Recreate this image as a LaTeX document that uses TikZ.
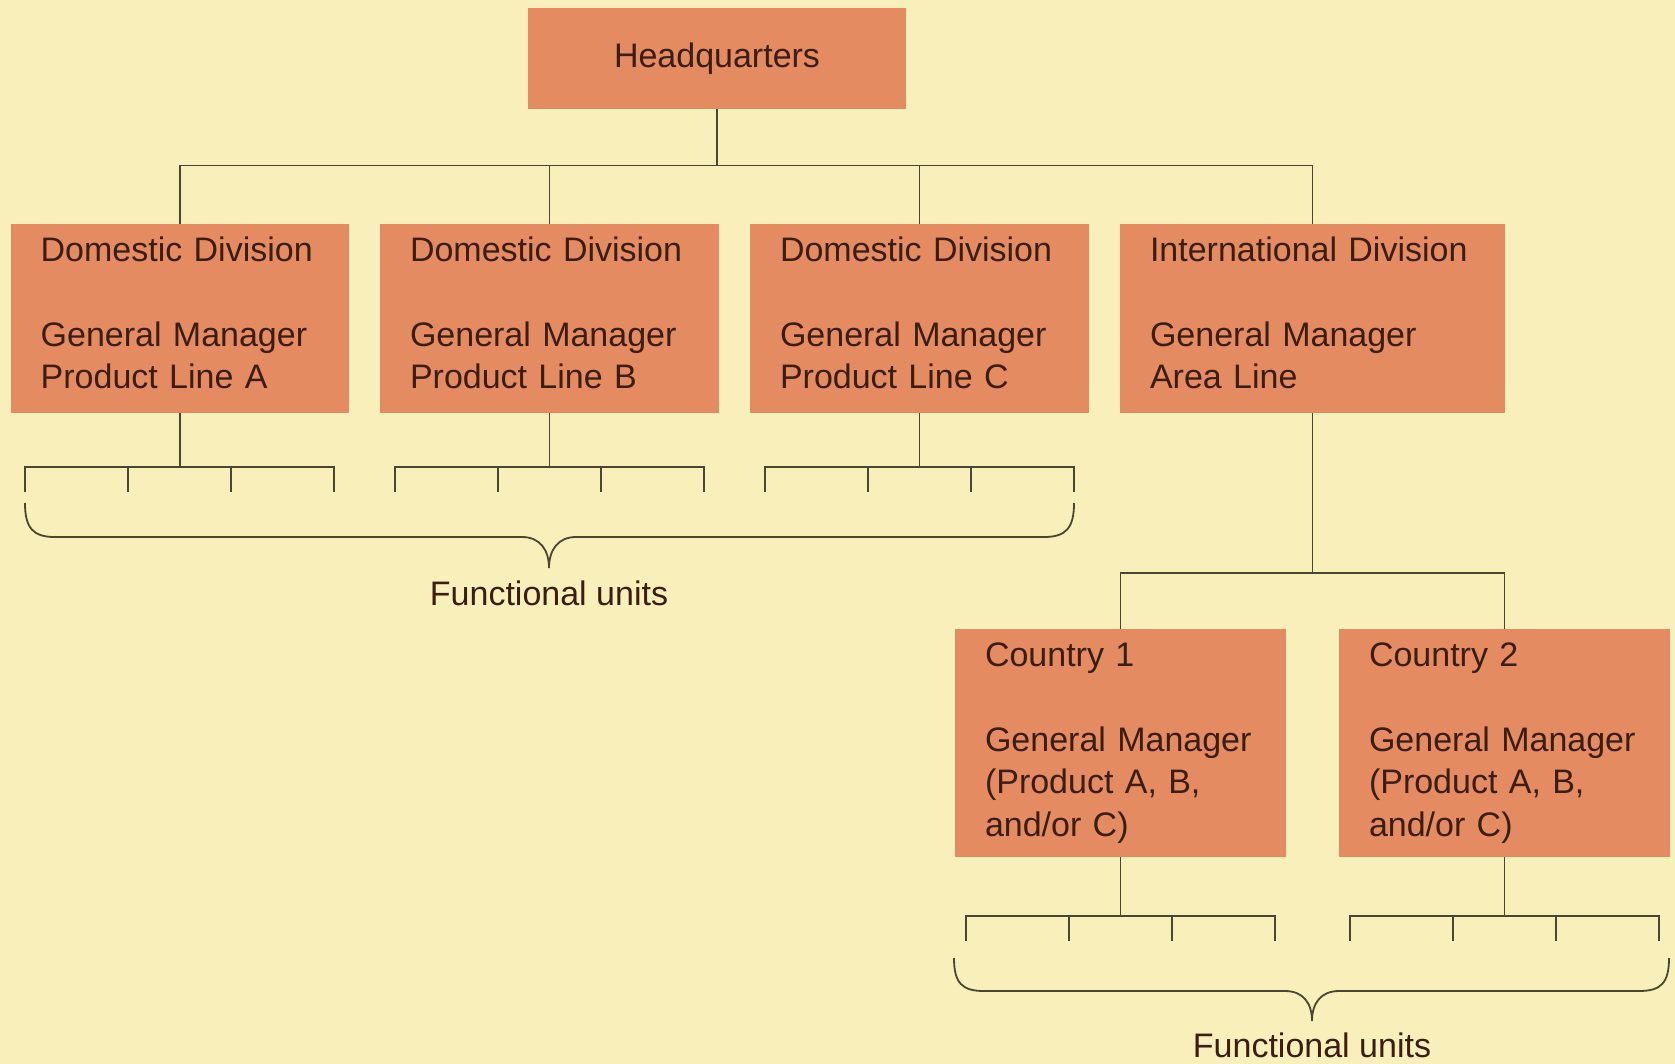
\documentclass[tikz,border=0pt]{standalone}
\usepackage{fontspec}
\setmainfont{Liberation Sans}
\definecolor{bgc}{HTML}{F8EFBA}
\definecolor{boxc}{HTML}{E48B62}
\definecolor{txtc}{HTML}{3A1E12}
\definecolor{linec}{HTML}{4B4631}
\newcommand{\dep}{\rule[-12pt]{0pt}{12pt}}
\begin{document}
\begin{tikzpicture}[x=1pt,y=-1pt,
  every node/.style={text=txtc, font=\fontsize{34}{42.5}\selectfont},
  orgbox/.style={fill=boxc, draw=none, inner xsep=30pt, inner ysep=0pt, align=left},
  conn/.style={draw=linec, line width=1.8pt},
  fu/.pic={
    \draw[conn] (-154.5,25) -- (-154.5,0) -- (154.5,0) -- (154.5,25);
    \draw[conn] (-51.5,0) -- (-51.5,25);
    \draw[conn] (51.5,0) -- (51.5,25);
  }]
\fill[bgc] (0,0) rectangle (1675,1064);
\useasboundingbox (0,0) rectangle (1675,1064);

% headquarters
\node[orgbox, align=center, minimum width=378pt, minimum height=100.5pt] (hq) at (717,58.75) {Headquarters};

% divisions
\node[orgbox, text width=278.3pt, minimum height=189pt] (dA) at (179.85,318.5)
  {Domestic Division\\[42.5pt]General Manager\\Product Line A\dep};
\node[orgbox, text width=279pt, minimum height=189pt] (dB) at (549.5,318.5)
  {Domestic Division\\[42.5pt]General Manager\\Product Line B\dep};
\node[orgbox, text width=279pt, minimum height=189pt] (dC) at (919.5,318.5)
  {Domestic Division\\[42.5pt]General Manager\\Product Line C\dep};
\node[orgbox, text width=325pt, minimum height=189pt] (dI) at (1312.5,318.5)
  {International Division\\[42.5pt]General Manager\\Area Line\dep};

% countries
\node[orgbox, text width=271pt, minimum height=228pt] (c1) at (1120.5,743)
  {Country 1\\[42.5pt]General Manager\\(Product A, B,\\and/or C)};
\node[orgbox, text width=271pt, minimum height=228pt] (c2) at (1504.5,743)
  {Country 2\\[42.5pt]General Manager\\(Product A, B,\\and/or C)};

% top bus
\coordinate (bus) at (0,165.6);
\draw[conn] (hq.south) -- (hq.south |- bus);
\draw[conn] (dA.north) -- (dA.north |- bus) -- (dI.north |- bus) -- (dI.north);
\draw[conn] (dB.north) -- (dB.north |- bus);
\draw[conn] (dC.north) -- (dC.north |- bus);

% international bus
\draw[conn] (dI.south) -- ++(0,159.6) coordinate (ibus);
\draw[conn] (c1.north) -- (c1.north |- ibus) -- (c2.north |- ibus) -- (c2.north);

% functional units brackets
\draw[conn] (dA.south) -- ++(0,54) coordinate (uA);
\draw[conn] (dB.south) -- ++(0,54) coordinate (uB);
\draw[conn] (dC.south) -- ++(0,54) coordinate (uC);
\draw[conn] (c1.south) -- ++(0,58.5) coordinate (u1);
\draw[conn] (c2.south) -- ++(0,58.5) coordinate (u2);
\pic at (uA) {fu};
\pic at (uB) {fu};
\pic at (uC) {fu};
\pic at (u1) {fu};
\pic at (u2) {fu};

% braces
\draw[conn] (25,503) .. controls (25,528) and (33,537) .. (55,537) -- (522,537)
  .. controls (540,537) and (549,550) .. (549,568)
  .. controls (549,550) and (558,537) .. (576,537) -- (1044,537)
  .. controls (1066,537) and (1074,528) .. (1074,503);
\draw[conn] (954,958) .. controls (954,983) and (962,991) .. (984,991) -- (1285,991)
  .. controls (1303,991) and (1312,1003) .. (1312,1021)
  .. controls (1312,1003) and (1321,991) .. (1339,991) -- (1639,991)
  .. controls (1661,991) and (1669,983) .. (1669,958);

\node[anchor=base] (fuA) at (549,605) {Functional units};
\node[anchor=base] (fuB) at (1312,1057) {Functional units};
\end{tikzpicture}
\end{document}
